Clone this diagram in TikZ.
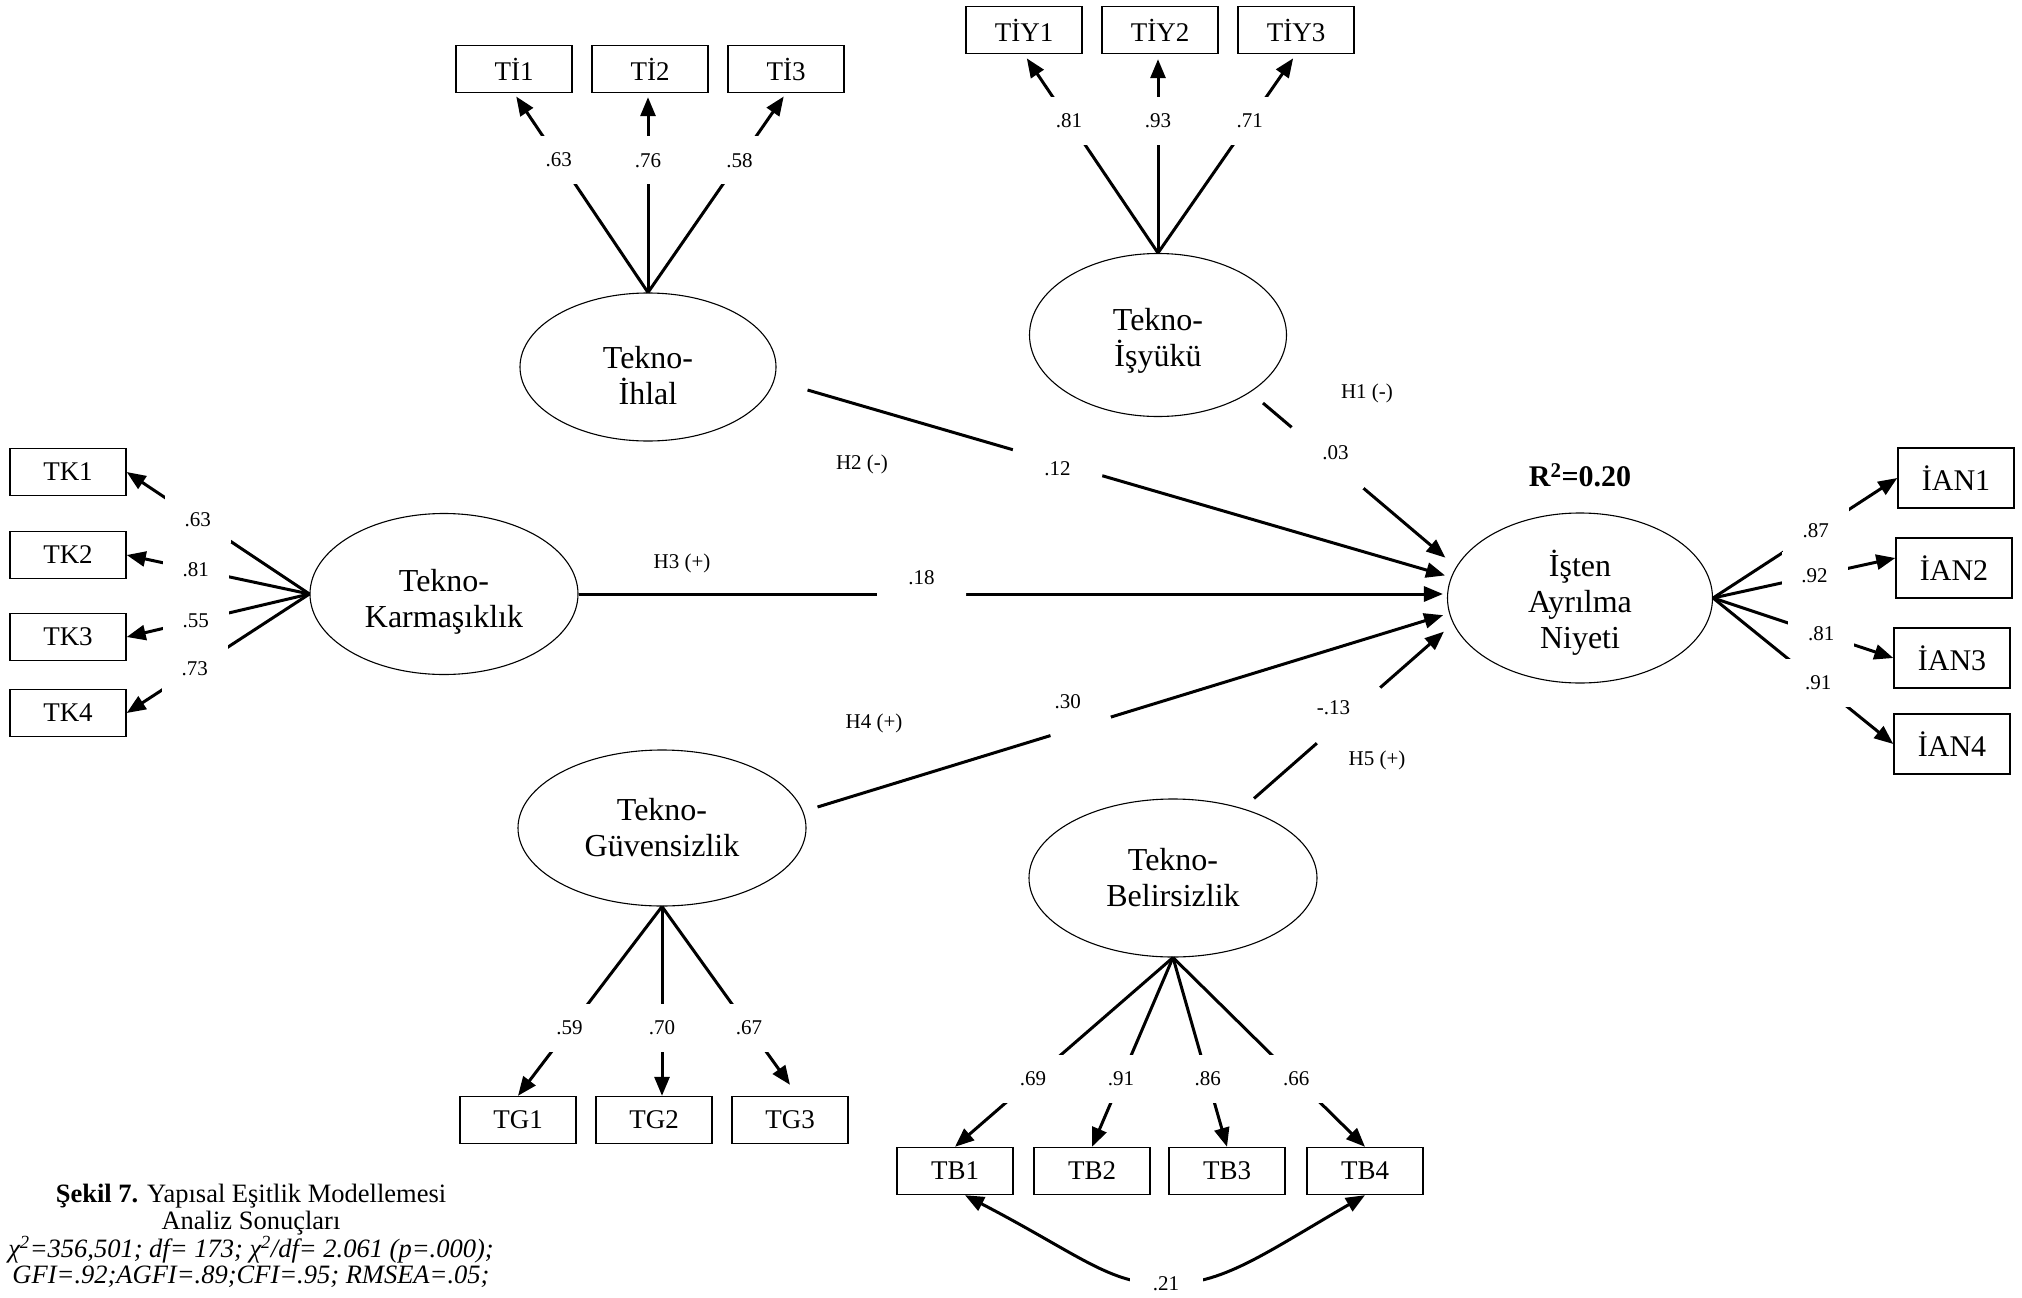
\documentclass[tikz,border=0pt]{standalone}
\usepackage{fontspec}
\setmainfont{Liberation Serif}
\usetikzlibrary{arrows.meta,shapes.geometric}
\begin{document}
\begin{tikzpicture}[x=1pt,y=-1pt,
  ind/.style={draw, line width=1.4pt, minimum width=116pt, minimum height=47pt, inner sep=0pt, font=\fontsize{27}{31}\selectfont},
  indb/.style={ind, minimum height=60pt, font=\fontsize{30}{34}\selectfont},
  lat/.style={ellipse, draw, line width=1.1pt, inner sep=0pt},
  ltx/.style={inner sep=0pt, align=center, font=\fontsize{32}{36}\selectfont},
  ln/.style={line width=3pt, -{Triangle[length=19pt,width=15pt]}},
  ld/.style={fill=white, inner sep=0pt, minimum width=66pt, minimum height=48pt, font=\fontsize{21}{24}\selectfont},
  gapc/.style={circle, fill=white, inner sep=0pt},
  lab/.style={inner sep=0pt, font=\fontsize{21}{24}\selectfont}]
\useasboundingbox (0,0) rectangle (2022,1298);

% latent variables
\node[lat, minimum width=256pt, minimum height=148pt] (ihl) at (648,367) {};
\node[lat, minimum width=257pt, minimum height=163pt] (isy) at (1158,335) {};
\node[lat, minimum width=268pt, minimum height=161pt] (kar) at (444,594) {};
\node[lat, minimum width=265pt, minimum height=170pt] (isten) at (1580,598) {};
\node[lat, minimum width=288pt, minimum height=156pt] (guv) at (662,828) {};
\node[lat, minimum width=288pt, minimum height=158pt] (bel) at (1173,878) {};
\node[ltx] (ihlt) at ([yshift=-9pt]ihl.center) {Tekno-\\İhlal};
\node[ltx] (isyt) at ([yshift=-6pt]isy.center) {Tekno-\\İşyükü};
\node[ltx] (kart) at ([yshift=-8pt]kar.center) {Tekno-\\Karmaşıklık};
\node[ltx] (istent) at ([yshift=-5pt]isten.center) {İşten\\Ayrılma\\Niyeti};
\node[ltx] (guvt) at (guv.center) {Tekno-\\Güvensizlik};
\node[ltx] (belt) at (bel.center) {Tekno-\\Belirsizlik};

% indicators
\node[ind] (ti1) at (514,69) {Tİ1};
\node[ind] (ti2) at (650,69) {Tİ2};
\node[ind] (ti3) at (786,69) {Tİ3};
\node[ind] (tiy1) at (1024,30) {TİY1};
\node[ind] (tiy2) at (1160,30) {TİY2};
\node[ind] (tiy3) at (1296,30) {TİY3};
\node[ind] (tk1) at (68,472) {TK1};
\node[ind] (tk2) at (68,555) {TK2};
\node[ind] (tk3) at (68,637) {TK3};
\node[ind] (tk4) at (68,713) {TK4};
\node[indb] (ian1) at (1956,478) {İAN1};
\node[indb] (ian2) at (1954,568) {İAN2};
\node[indb] (ian3) at (1952,658) {İAN3};
\node[indb] (ian4) at (1952,744) {İAN4};
\node[ind] (tg1) at (518,1120) {TG1};
\node[ind] (tg2) at (654,1120) {TG2};
\node[ind] (tg3) at (790,1120) {TG3};
\node[ind] (tb1) at (955,1171) {TB1};
\node[ind] (tb2) at (1092,1171) {TB2};
\node[ind] (tb3) at (1227,1171) {TB3};
\node[ind] (tb4) at (1365,1171) {TB4};

% loadings
\draw[ln, shorten >=4pt] (ihl.north) -- node[ld, pos=.667] (l63a) {.63} (ti1.south);
\draw[ln, shorten >=4pt] (ihl.north) -- node[ld, pos=.663] (l76) {.76} (ihl.north |- ti2.south);
\draw[ln, shorten >=4pt] (ihl.north) -- node[ld, pos=.663] (l58) {.58} (ti3.south);

\draw[ln, shorten >=5pt] (isy.north) -- node[ld, pos=.665] (l81a) {.81} (tiy1.south);
\draw[ln, shorten >=5pt] (isy.north) -- node[ld, pos=.665] (l93) {.93} (isy.north |- tiy2.south);
\draw[ln, shorten >=5pt] (isy.north) -- node[ld, pos=.665] (l71) {.71} (tiy3.south);

\draw[ln] (kar.west) -- node[ld, pos=.611] (l63b) {.63} (tk1.east);
\draw[ln] (kar.west) -- node[ld, pos=.622] (l81b) {.81} (tk2.east);
\draw[ln] (kar.west) -- node[ld, pos=.622] (l55) {.55} (tk3.east);
\draw[ln] (kar.west) -- node[ld, pos=.628] (l73) {.73} (tk4.east);

\draw[ln] (isten.east) -- node[ld, pos=.557] (l87) {.87} (ian1.west);
\draw[ln] (isten.east) -- node[ld, pos=.557] (l92) {.92} ([yshift=10pt]ian2.west);
\draw[ln] (isten.east) -- node[ld, pos=.6] (l81c) {.81} (ian3.west);
\draw[ln] (isten.east) -- node[ld, pos=.583] (l91a) {.91} (ian4.west);

\draw[ln] (guv.south) -- node[ld, pos=.642] (l59) {.59} (tg1.north);
\draw[ln] (guv.south) -- node[ld, pos=.642] (l70) {.70} (guv.south |- tg2.north);
\draw[ln] (guv.south) -- node[ld, pos=.68] (l67) {.67} ([yshift=11pt]tg3.north);

\draw[ln] (bel.south) -- node[ld, pos=.642] (l69) {.69} (tb1.north);
\draw[ln] (bel.south) -- node[ld, pos=.642] (l91b) {.91} (tb2.north);
\draw[ln] (bel.south) -- node[ld, pos=.642] (l86) {.86} (tb3.north);
\draw[ln] (bel.south) -- node[ld, pos=.642] (l66) {.66} (tb4.north);

% correlation TB1 - TB4
\coordinate (c21) at (1166,1284);
\draw[line width=3pt, {Triangle[length=19pt,width=15pt]}-{Triangle[length=19pt,width=15pt]}]
  ([xshift=10pt]tb1.south) .. controls (1080,1255) and (1110,1285) .. (c21)
  .. controls (1222,1285) and (1262,1255) .. (tb4.south);
\node[fill=white, inner sep=0pt, minimum width=73pt, minimum height=26pt, font=\fontsize{21}{24}\selectfont] (l21) at (c21) {.21};

% structural paths
\draw[ln, shorten >=2pt] ([xshift=105pt,yshift=14pt]isy.south) -- node[gapc, minimum size=94pt, pos=.351] (g03) {} ([yshift=39pt]isten.west);
\draw[ln, shorten >=2pt] ([xshift=31pt,yshift=-23pt]ihl.east) -- node[gapc, minimum size=93pt, pos=.391] (g12) {} ([yshift=22pt]isten.west);
\draw[ln, shorten >=4pt] (kar.east) -- node[gapc, minimum size=89pt, pos=.395] (g18) {} (kar.east -| isten.west);
\draw[ln, shorten >=4pt] ([xshift=11pt,yshift=21pt]guv.east) -- node[gapc, minimum size=63pt, pos=.418] (g30) {} ([yshift=-16pt]isten.west);
\draw[ln, shorten >=4pt] ([xshift=81pt]bel.north) -- node[gapc, minimum size=84pt, pos=.49] (g13) {} ([yshift=-31pt]isten.west);

\node[lab] (p03) at ([xshift=8pt,yshift=5pt]g03) {.03};
\node[lab] (p12) at ([yshift=-6pt]g12) {.12};
\node[lab] (p18) at ([yshift=16pt]g18) {.18};
\node[lab] (p30) at ([xshift=-13pt,yshift=25pt]g30) {.30};
\node[lab] (p13) at ([xshift=-15pt,yshift=8pt]g13) {-.13};

\node[lab] (h1) at (1367,393) {H1 (-)};
\node[lab] (h2) at (862,464) {H2 (-)};
\node[lab] (h3) at (682,563) {H3 (+)};
\node[lab] (h4) at (874,723) {H4 (+)};
\node[lab] (h5) at (1377,760) {H5 (+)};

\node[inner sep=0pt, font=\bfseries\fontsize{30}{34}\selectfont] (r2) at (1580,475) {R\textsuperscript{2}=0.20};

% caption
\node[inner sep=0pt, align=center, font=\fontsize{26.5}{26.7}\selectfont] (cap) at (251,1236)
  {\textbf{Şekil 7.} Yapısal Eşitlik Modellemesi\\Analiz Sonuçları\\
   \textit{χ\textsuperscript{2}=356,501; df= 173; χ\textsuperscript{2}/df= 2.061 (p=.000);}\\
   \textit{GFI=.92;AGFI=.89;CFI=.95; RMSEA=.05;}};
\end{tikzpicture}
\end{document}
